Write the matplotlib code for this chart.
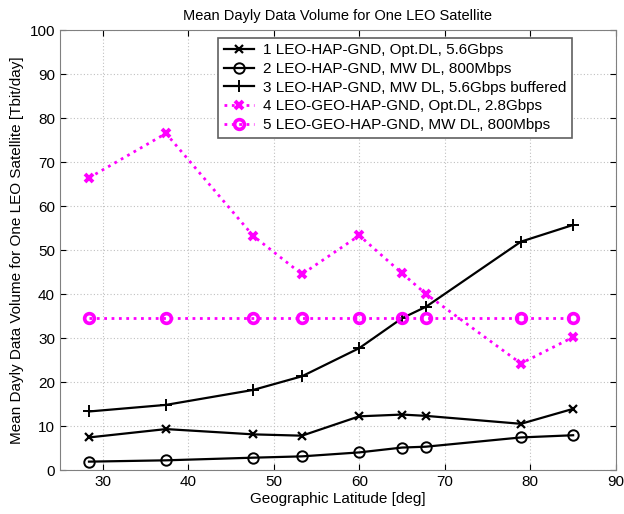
import matplotlib
matplotlib.use("Agg")
import matplotlib.pyplot as plt

plt.rcParams['font.family'] = ['Liberation Sans', 'DejaVu Sans']

lat = [28.4, 37.4, 47.6, 53.3, 60.0, 65.0, 67.8, 78.9, 85.0]
s1 = [7.4, 9.3, 8.1, 7.8, 12.2, 12.6, 12.3, 10.5, 13.9]
s2 = [1.9, 2.2, 2.8, 3.1, 4.0, 5.1, 5.3, 7.4, 7.9]
s3 = [13.3, 14.8, 18.2, 21.3, 27.7, 34.5, 37.1, 51.9, 55.7]
s4 = [66.4, 76.5, 53.2, 44.5, 53.3, 44.7, 40.0, 24.2, 30.2]
s5 = [34.5, 34.5, 34.5, 34.5, 34.5, 34.5, 34.5, 34.5, 34.5]
labels = ['1 LEO-HAP-GND, Opt.DL, 5.6Gbps',
          '2 LEO-HAP-GND, MW DL, 800Mbps',
          '3 LEO-HAP-GND, MW DL, 5.6Gbps buffered',
          '4 LEO-GEO-HAP-GND, Opt.DL, 2.8Gbps',
          '5 LEO-GEO-HAP-GND, MW DL, 800Mbps']

fig = plt.figure(figsize=(6.24, 5.14), dpi=100)
ax = fig.add_axes([0.096, 0.0856, 0.891, 0.856])

ax.plot(lat, s1, color='black', lw=1.6, marker='x', ms=6, mew=1.6, label=labels[0])
ax.plot(lat, s2, color='black', lw=1.6, marker='o', ms=7.5, mew=1.4, mfc='none', label=labels[1])
ax.plot(lat, s3, color='black', lw=1.6, marker='+', ms=9, mew=1.4, label=labels[2])
ax.plot(lat, s4, color='#ff00ff', lw=2.0, ls=':', marker='x', ms=6, mew=2.8, label=labels[3])
ax.plot(lat, s5, color='#ff00ff', lw=2.0, ls=':', marker='o', ms=7, mew=2.6, mfc='none', label=labels[4])

ax.set_xlim(25, 90)
ax.set_ylim(0, 100)
ax.set_xticks(range(30, 91, 10))
ax.set_yticks(range(0, 101, 10))
ax.grid(True, ls=(0, (1, 2)), color='#c0c0c0', lw=0.8)
ax.tick_params(direction='in', top=True, right=True, labelsize=11, colors='black', length=4)
for sp in ax.spines.values():
    sp.set_color('#808080')

ax.set_title('Mean Dayly Data Volume for One LEO Satellite', fontsize=10.5, pad=7)
ax.set_xlabel('Geographic Latitude [deg]', fontsize=11, labelpad=2)
ax.set_ylabel('Mean Dayly Data Volume for One LEO Satellite [Tbit/day]', fontsize=11, labelpad=4)

leg = ax.legend(loc='upper right', bbox_to_anchor=(0.921, 0.982), borderaxespad=0,
                fontsize=11, frameon=True, fancybox=False, edgecolor='#606060', framealpha=1,
                borderpad=0.35, labelspacing=0.31, handlelength=2.0, handletextpad=0.6)
leg.get_frame().set_linewidth(1.2)

fig.savefig('out.png', dpi=100)
